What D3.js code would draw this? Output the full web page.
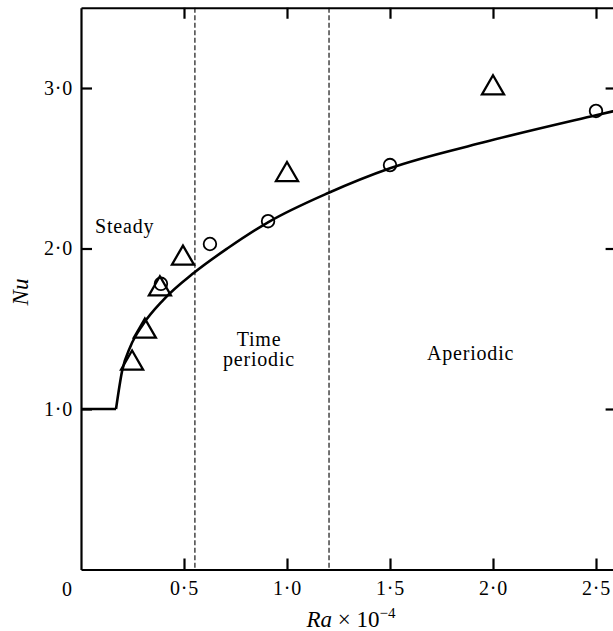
<!DOCTYPE html>
<html>
<head>
<meta charset="utf-8">
<script src="https://cdn.jsdelivr.net/npm/d3@7"></script>
<style>
  html, body { margin: 0; padding: 0; background: #fff; }
  svg { display: block; }
  text { font-family: "Liberation Serif", "DejaVu Serif", serif; fill: #000; }
</style>
</head>
<body>
<script>
// ---- data ----
const xTickValues = [0.5, 1.0, 1.5, 2.0, 2.5];
const xTickLabels = ["0·5", "1·0", "1·5", "2·0", "2·5"];
const yTickValues = [1.0, 2.0, 3.0];
const yTickLabels = ["1·0", "2·0", "3·0"];

// conduction branch (Nu = 1) and convective curve
const conductionRa = [0, 0.17];
const conductionNu = [1.0, 1.0];
const curveRa = [0.17, 0.20, 0.24, 0.30, 0.40, 0.55, 0.71, 0.91, 1.20, 1.50, 1.95, 2.50, 2.60];
const curveNu = [1.00, 1.24, 1.39, 1.525, 1.68, 1.85, 2.00, 2.165, 2.346, 2.50, 2.66, 2.83, 2.86];

// experimental points
const triangleRa = [0.248, 0.31, 0.383, 0.495, 1.0, 2.0];
const triangleNu = [1.285, 1.484, 1.748, 1.939, 2.46, 3.00];
const circleRa = [0.388, 0.626, 0.908, 1.50, 2.50];
const circleNu = [1.78, 2.028, 2.17, 2.52, 2.857];

// regime boundaries
const boundaryRa = [0.553, 1.204];

// ---- layout ----
const W = 613, H = 631;
const margin = { left: 81, top: 7.75 };
const xMax = 2.6, yMax = 3.5;
const pxPerX = 206, pxPerY = 160.5;
const innerW = xMax * pxPerX, innerH = yMax * pxPerY;

const svg = d3.select("body").append("svg").attr("width", W).attr("height", H);
const g = svg.append("g").attr("transform", `translate(${margin.left},${margin.top})`);

const x = d3.scaleLinear().domain([0, xMax]).range([0, innerW]);
const y = d3.scaleLinear().domain([0, yMax]).range([innerH, 0]);

const tickLen = 11;
function styleAxis(sel) {
  sel.select(".domain").attr("stroke", "#000").attr("stroke-width", 2.2);
  sel.selectAll(".tick line").attr("stroke", "#000").attr("stroke-width", 2.2);
  sel.selectAll(".tick text").style("font-size", "20px").style("letter-spacing", "0.8px")
    .attr("font-family", "Liberation Serif");
}

// bottom axis
const xAxisB = g.append("g").attr("transform", `translate(0,${innerH})`)
  .call(d3.axisBottom(x).tickValues(xTickValues).tickSizeInner(-tickLen).tickSizeOuter(0)
    .tickPadding(11).tickFormat((d, i) => xTickLabels[i]));
styleAxis(xAxisB);
// top axis
const xAxisT = g.append("g")
  .call(d3.axisTop(x).tickValues(xTickValues).tickSizeInner(-tickLen).tickSizeOuter(0).tickFormat(""));
styleAxis(xAxisT);
// left axis
const yAxisL = g.append("g")
  .call(d3.axisLeft(y).tickValues(yTickValues).tickSizeInner(-tickLen).tickSizeOuter(0)
    .tickPadding(8).tickFormat((d, i) => yTickLabels[i]));
styleAxis(yAxisL);
// right axis
const yAxisR = g.append("g").attr("transform", `translate(${innerW},0)`)
  .call(d3.axisRight(y).tickValues(yTickValues).tickSizeInner(-tickLen).tickSizeOuter(0).tickFormat(""));
styleAxis(yAxisR);

// origin label
g.append("text").attr("x", x(0) - 14).attr("y", innerH + 26)
  .attr("text-anchor", "middle").style("font-size", "20px").text("0");

// regime boundaries (dashed)
g.selectAll(".boundary").data(boundaryRa).join("line")
  .attr("x1", d => x(d)).attr("x2", d => x(d))
  .attr("y1", 0).attr("y2", innerH)
  .attr("stroke", "#000").attr("stroke-width", 1.1).attr("stroke-dasharray", "5,2.5");

// curves
const line = d3.line().x(d => x(d[0])).y(d => y(d[1]));
g.append("path").datum(conductionRa.map((r, i) => [r, conductionNu[i]]))
  .attr("d", line.curve(d3.curveLinear)).attr("fill", "none")
  .attr("stroke", "#000").attr("stroke-width", 2.6);
g.append("path").datum(curveRa.map((r, i) => [r, curveNu[i]]))
  .attr("d", d3.line().x(d => x(d[0])).y(d => y(d[1])).curve(d3.curveMonotoneX))
  .attr("fill", "none").attr("stroke", "#000").attr("stroke-width", 2.6)
  .attr("stroke-linejoin", "round");

// markers
const triSym = d3.symbol(d3.symbolTriangle, 210);
g.selectAll(".tri").data(triangleRa.map((r, i) => [r, triangleNu[i]])).join("path")
  .attr("d", triSym).attr("transform", d => `translate(${x(d[0])},${y(d[1])})`)
  .attr("fill", "none").attr("stroke", "#000").attr("stroke-width", 2.3)
  .attr("stroke-linejoin", "miter");
const circSym = d3.symbol(d3.symbolCircle, Math.PI * 6.3 * 6.3);
g.selectAll(".circ").data(circleRa.map((r, i) => [r, circleNu[i]])).join("path")
  .attr("d", circSym).attr("transform", d => `translate(${x(d[0])},${y(d[1])})`)
  .attr("fill", "none").attr("stroke", "#000").attr("stroke-width", 1.8);

// regime labels
const lab = { size: "20px", ls: "0.8px" };
svg.append("text").attr("x", 95).attr("y", 233).style("font-size", lab.size)
  .style("letter-spacing", lab.ls).text("Steady");
svg.append("text").attr("x", 259).attr("y", 346).attr("text-anchor", "middle")
  .style("font-size", lab.size).style("letter-spacing", lab.ls).text("Time");
svg.append("text").attr("x", 259).attr("y", 366).attr("text-anchor", "middle")
  .style("font-size", lab.size).style("letter-spacing", lab.ls).text("periodic");
svg.append("text").attr("x", 427).attr("y", 360).style("font-size", lab.size)
  .style("letter-spacing", lab.ls).text("Aperiodic");

// axis titles
svg.append("text").attr("transform", "translate(28,292) rotate(-90)")
  .attr("text-anchor", "middle").style("font-size", "23px").style("font-style", "italic").text("Nu");
const xt = svg.append("text").attr("x", 351).attr("y", 627).attr("text-anchor", "middle")
  .style("font-size", "23px");
xt.append("tspan").style("font-style", "italic").text("Ra");
xt.append("tspan").text(" × 10");
xt.append("tspan").attr("dy", -9).style("font-size", "15px").text("−4");
</script>
</body>
</html>
